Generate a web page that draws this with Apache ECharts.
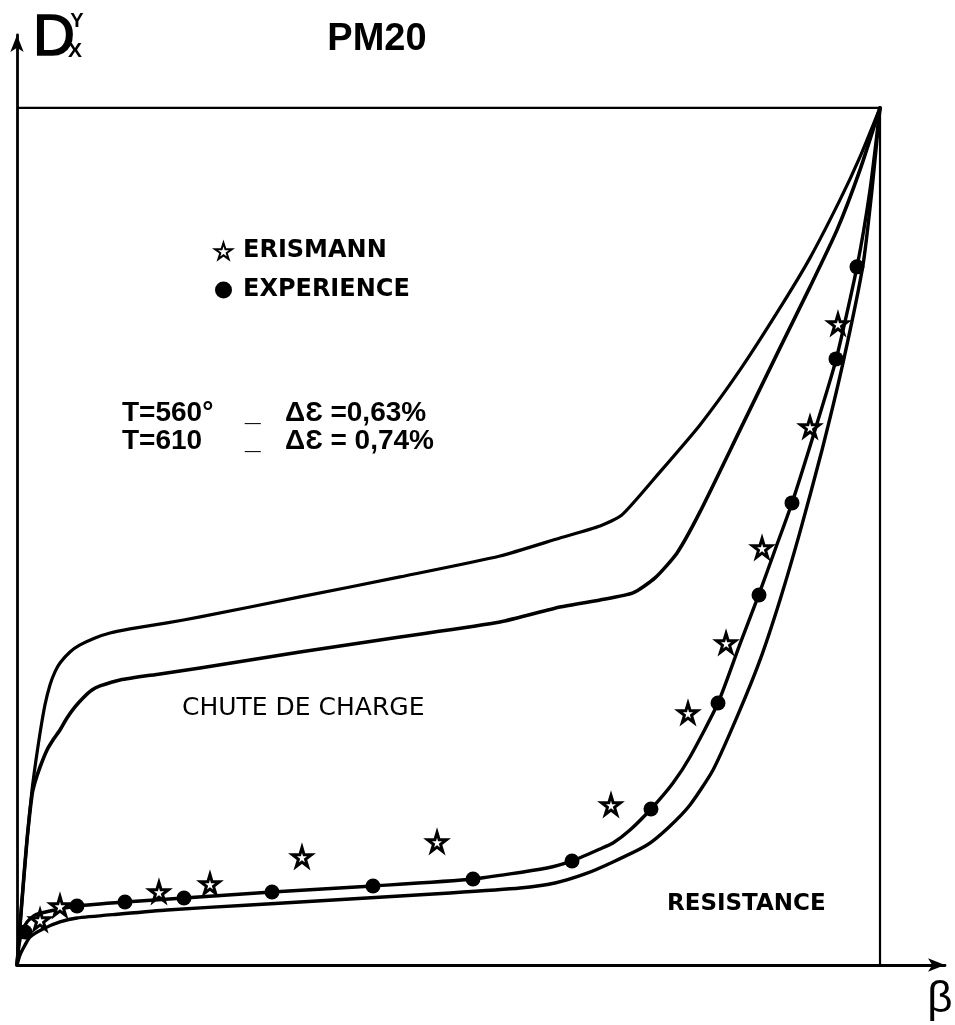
<!DOCTYPE html>
<html>
<head>
<meta charset="utf-8">
<script src="https://cdn.jsdelivr.net/npm/echarts@6/dist/echarts.min.js"></script>
<style>
html,body{margin:0;padding:0;background:#fff;}
#chart{width:955px;height:1025px;}
</style>
</head>
<body>
<div id="chart"></div>
<script>
// Data (x: 0..100 across the frame, y: 0..100 up the frame)
var curveUpper = [[0,0],[0.58,7.58],[1.16,14.59],[1.74,20.42],[2.20,23.92],[2.67,27.07],[3.24,30.34],[3.82,32.67],[4.40,34.19],[4.98,35.24],[6.14,36.52],[7.30,37.34],[9.04,38.16],[10.78,38.74],[13.09,39.21],[17.38,39.91],[21.21,40.61],[32.79,42.94],[44.38,45.28],[55.97,47.72],[62.92,49.82],[67.56,51.23],[70.10,52.51],[74.51,57.53],[79.14,63.01],[83.78,69.43],[88.41,76.66],[91.89,82.50],[95.36,89.26],[97.68,94.28],[100,100]];
var curveLower = [[0,0],[0.58,7.58],[1.16,14.59],[1.74,19.84],[2.09,21.35],[2.67,23.10],[3.48,25.09],[4.17,26.25],[4.98,27.42],[5.79,28.82],[6.72,30.11],[7.65,31.16],[8.69,32.09],[9.62,32.56],[11.94,33.26],[16.57,33.96],[21.21,34.66],[32.79,36.52],[44.38,38.27],[55.97,40.02],[62.92,41.77],[67.56,42.59],[71.38,43.41],[73.93,45.16],[76.48,48.07],[79.14,52.86],[83.78,62.43],[88.41,72.00],[91.89,79.11],[95.02,85.76],[97.68,92.77],[100,100]];
var curveExperience = [[0,0],[0.23,2.33],[0.58,3.85],[1.16,5.02],[2.09,5.83],[3.82,6.30],[6.95,6.88],[12.51,7.35],[19.35,7.82],[29.55,8.52],[41.25,9.22],[52.84,10.03],[61.41,11.32],[64.31,12.14],[67.56,13.54],[69.06,14.24],[71.03,15.75],[73.46,18.20],[76.01,21.24],[77.98,24.27],[81.23,30.57],[83.78,37.46],[85.86,42.94],[87.83,48.42],[89.80,53.91],[92.47,62.43],[94.90,70.60],[97.33,81.45],[98.84,90.43],[100,100]];
var curveResistance = [[0,0],[0.35,1.17],[0.93,2.33],[1.51,3.27],[3.01,4.20],[4.98,5.02],[6.95,5.48],[11.94,5.95],[17.38,6.42],[27.00,7.00],[38.59,7.70],[50.17,8.40],[58.29,8.98],[62.34,9.57],[65.82,10.62],[69.06,12.02],[73.00,14.00],[75.43,15.99],[77.98,18.67],[80.65,22.75],[83.43,28.94],[86.10,35.59],[88.41,42.59],[90.73,50.53],[93.28,60.09],[95.71,70.25],[98.03,81.68],[99.07,90.43],[100,100]];
var experiencePoints = [[0.93,3.85],[6.95,6.88],[12.51,7.35],[19.35,7.82],[29.55,8.52],[41.25,9.22],[52.84,10.03],[64.31,12.14],[73.46,18.20],[81.23,30.57],[85.98,43.17],[89.80,53.91],[94.90,70.71],[97.33,81.45]];
var erismannPoints = [[2.67,5.25],[4.98,6.88],[16.45,8.52],[22.36,9.45],[33.02,12.60],[48.67,14.35],[68.83,18.67],[77.75,29.40],[82.16,37.57],[86.33,48.66],[91.89,62.78],[95.13,74.80]];
var frame = [[0,100],[100,100],[100,0]];
var seriesNames = ['ERISMANN','EXPERIENCE'];
var title = 'PM20';
var condLine1 = ['T=560°','_','ΔƐ =0,63%'];
var condLine2 = ['T=610','_','ΔƐ = 0,74%'];
var labelChute = 'CHUTE DE CHARGE';
var labelResistance = 'RESISTANCE';

var starPath = 'path://M50,0 L61,35 L98,35 L68,57 L79,91 L50,70 L21,91 L32,57 L2,35 L39,35 Z';
var chart = echarts.init(document.getElementById('chart'), null, {renderer:'canvas'});

function lineSeries(data, w){
  return {type:'line', data:data, symbol:'none', smooth:0.2, silent:true,
    lineStyle:{color:'#000', width:w, cap:'round', join:'round'}, z:2};
}

var condRich = {a:{width:123}, b:{width:40}, c:{}};
function condText(arr){ return '{a|'+arr[0]+'}{b|'+arr[1]+'}{c|'+arr[2]+'}'; }

chart.setOption({
  animation:false,
  backgroundColor:'#fff',
  grid:{left:17, right:10, top:35, bottom:60, containLabel:false},
  xAxis:{type:'value', min:0, max:107.53,
    axisLine:{show:true, symbol:['none','arrow'], symbolSize:[10,17], lineStyle:{color:'#000', width:2.8}},
    axisTick:{show:false}, axisLabel:{show:false}, splitLine:{show:false}},
  yAxis:{type:'value', min:0, max:108.5,
    axisLine:{show:true, symbol:['none','arrow'], symbolSize:[10,17], lineStyle:{color:'#000', width:2.8}},
    axisTick:{show:false}, axisLabel:{show:false}, splitLine:{show:false}},
  legend:{data:seriesNames, orient:'vertical', left:209, top:233, itemWidth:17, itemHeight:17, itemGap:13,
    textStyle:{fontFamily:'DejaVu Sans', fontWeight:'bold', fontSize:24, color:'#000', lineHeight:26, padding:[0,0,0,6]}},
  series:[
    {type:'line', data:frame, symbol:'none', silent:true, lineStyle:{color:'#000', width:2.2}, z:1},
    lineSeries(curveUpper, 3.2),
    lineSeries(curveLower, 3.6),
    lineSeries(curveExperience, 3.4),
    lineSeries(curveResistance, 3.4),
    {name:seriesNames[1], type:'scatter', data:experiencePoints, symbol:'circle', symbolSize:15,
      itemStyle:{color:'#000', opacity:1}, z:4},
    {name:seriesNames[0], type:'scatter', data:erismannPoints, symbol:starPath, symbolSize:19,
      itemStyle:{color:'#fff', borderColor:'#000', borderWidth:3, opacity:1}, z:5}
  ],
  graphic:[
    {type:'text', x:377, y:40, style:{text:title, font:'bold 38px "Liberation Sans", Arial, sans-serif', fill:'#000', textAlign:'center', textVerticalAlign:'middle'}},
    {type:'text', x:33, y:39, style:{text:'D', font:'58px "Liberation Sans", sans-serif', fill:'#000', stroke:'#000', lineWidth:1.6, textAlign:'left', textVerticalAlign:'middle'}},
    {type:'text', x:77, y:21, style:{text:'Y', font:'bold 20px "Liberation Sans", sans-serif', fill:'#000', textAlign:'center', textVerticalAlign:'middle'}},
    {type:'text', x:75, y:51, style:{text:'X', font:'bold 21px "Liberation Sans", sans-serif', fill:'#000', textAlign:'center', textVerticalAlign:'middle'}},
    {type:'text', x:122, y:413, style:{text:condText(condLine1), rich:condRich, font:'bold 28px "Liberation Sans", sans-serif', fill:'#000', textAlign:'left', textVerticalAlign:'middle'}},
    {type:'text', x:122, y:441, style:{text:condText(condLine2), rich:condRich, font:'bold 28px "Liberation Sans", sans-serif', fill:'#000', textAlign:'left', textVerticalAlign:'middle'}},
    {type:'text', x:182, y:708, style:{text:labelChute, font:'25px "DejaVu Sans", sans-serif', fill:'#000', textAlign:'left', textVerticalAlign:'middle'}},
    {type:'text', x:667, y:904, style:{text:labelResistance, font:'bold 23px "DejaVu Sans", sans-serif', fill:'#000', textAlign:'left', textVerticalAlign:'middle'}},
    {type:'text', x:940, y:1000, style:{text:'β', font:'44px "Liberation Sans", sans-serif', fill:'#000', textAlign:'center', textVerticalAlign:'middle'}}
  ]
});
</script>
</body>
</html>
